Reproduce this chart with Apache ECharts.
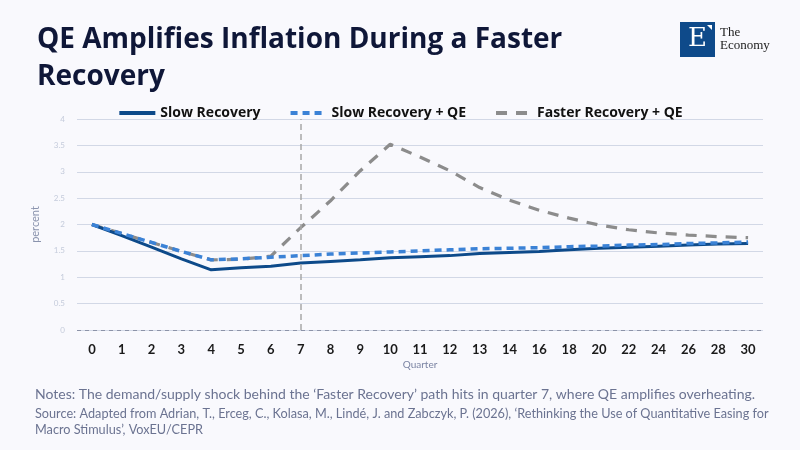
<!DOCTYPE html>
<html>
<head>
<meta charset="utf-8">
<script src="https://cdn.jsdelivr.net/npm/echarts@6/dist/echarts.min.js"></script>
<style>
html,body{margin:0;padding:0;background:#f9f9fd;}
#c{width:800px;height:450px;}
</style>
</head>
<body>
<div id="c"></div>
<script>
var quarters = ['0','1','2','3','4','5','6','7','8','9','10','11','12','13','14','16','18','20','22','24','26','28','30'];
var slowRecovery = [2.0,1.79,1.57,1.35,1.14,1.18,1.21,1.27,1.30,1.33,1.37,1.39,1.41,1.45,1.47,1.49,1.52,1.55,1.57,1.59,1.61,1.63,1.64];
var slowRecoveryQE = [2.0,1.83,1.66,1.49,1.33,1.35,1.38,1.41,1.44,1.46,1.48,1.50,1.52,1.54,1.55,1.56,1.58,1.59,1.61,1.62,1.64,1.65,1.67];
var fasterRecoveryQE = [2.0,1.83,1.66,1.49,1.33,1.34,1.40,1.94,2.45,3.02,3.52,3.28,3.02,2.70,2.46,2.27,2.12,1.99,1.90,1.84,1.80,1.77,1.75];
var shockQuarter = '7';
var yTicks = [0,0.5,1,1.5,2,2.5,3,3.5,4];

var chart = echarts.init(document.getElementById('c'));
chart.setOption({
  backgroundColor: '#f9f9fd',
  animation: false,
  title: [
    {text: 'QE Amplifies Inflation During a Faster\nRecovery', left: 32, top: 17,
     textStyle: {fontFamily: 'Open Sans', fontWeight: 'bold', fontSize: 28, color: '#0f1738', lineHeight: 37}},
    {text: 'Notes: The demand/supply shock behind the \u2018Faster Recovery\u2019 path hits in quarter 7, where QE amplifies overheating.',
     left: 30, top: 382, textStyle: {fontFamily: 'Lato', fontWeight: 'normal', fontSize: 14, color: '#6b7391'}},
    {text: 'Source: Adapted from Adrian, T., Erceg, C., Kolasa, M., Lind\u00e9, J. and Zabczyk, P. (2026), \u2018Rethinking the Use of Quantitative Easing for\nMacro Stimulus\u2019, VoxEU/CEPR',
     left: 30, top: 401, textStyle: {fontFamily: 'Lato', fontWeight: 'normal', fontSize: 12.7, color: '#6b7391', lineHeight: 16}}
  ],
  graphic: [
    {type: 'rect', left: 680, top: 22, shape: {width: 35, height: 35}, style: {fill: '#0e4a8a'}},
    {type: 'text', left: 688, top: 26, style: {text: 'E', fill: '#ffffff', font: '26px "DejaVu Serif", serif'}},
    {type: 'polygon', shape: {points: [[707,25],[712,25],[712,30]]}, style: {fill: '#ffffff'}},
    {type: 'text', left: 720, top: 26, style: {text: 'The\nEconomy', fill: '#222222', font: '13px "Liberation Serif", serif', lineHeight: 13}}
  ],
  legend: {
    top: 101, left: 'center', itemWidth: 36, itemHeight: 5, itemGap: 28,
    itemStyle: {opacity: 0},
    lineStyle: {width: 4},
    textStyle: {fontFamily: 'Open Sans', fontWeight: 'bold', fontSize: 14, color: '#111111'},
    data: ['Slow Recovery','Slow Recovery + QE','Faster Recovery + QE']
  },
  grid: {left: 77, right: 37, top: 119, bottom: 120},
  xAxis: {
    type: 'category', data: quarters, boundaryGap: true,
    name: 'Quarter', nameLocation: 'middle', nameGap: 30,
    nameTextStyle: {fontFamily: 'Lato', fontSize: 10, color: '#7b84a3'},
    axisLine: {show: false}, axisTick: {show: false},
    axisLabel: {interval: 0, margin: 13, fontFamily: 'Lato', fontWeight: 'bold', fontSize: 13, color: '#1a1a1a'}
  },
  yAxis: {
    type: 'value', min: 0, max: 4, interval: 0.5,
    name: 'percent', nameLocation: 'middle', nameGap: 36,
    nameTextStyle: {fontFamily: 'Lato', fontSize: 11, color: '#8a93ad'},
    axisLine: {show: false}, axisTick: {show: false},
    axisLabel: {fontFamily: 'Lato', fontSize: 8, color: '#c4cbdb', margin: 12,
      formatter: function(v){ return yTicks.indexOf(v) >= 0 ? String(v) : ''; }},
    splitLine: {lineStyle: {color: '#d2d8e6', width: 1}}
  },
  series: [
    {name: 'Slow Recovery', type: 'line', data: slowRecovery, symbol: 'none', z: 3,
     lineStyle: {color: '#0d4a8a', width: 3}, itemStyle: {color: '#0d4a8a'},
     markLine: {symbol: 'none', silent: true, label: {show: false},
       lineStyle: {color: '#8c93a8', type: [4,4], width: 1},
       data: [{yAxis: 0}]}},
    {name: 'Slow Recovery + QE', type: 'line', data: slowRecoveryQE, symbol: 'none', z: 4,
     lineStyle: {color: '#3b82d6', width: 3.5, type: [7,5]}, itemStyle: {color: '#3b82d6'}},
    {name: 'Faster Recovery + QE', type: 'line', data: fasterRecoveryQE, symbol: 'none', z: 2,
     lineStyle: {color: '#8c8c8c', width: 3.2, type: [11,9]}, itemStyle: {color: '#8c8c8c'},
     markLine: {symbol: 'none', silent: true, label: {show: false},
       lineStyle: {color: '#a8a8a8', type: [6,4], width: 1.5},
       data: [{xAxis: shockQuarter}]}}
  ]
});
</script>
</body>
</html>
